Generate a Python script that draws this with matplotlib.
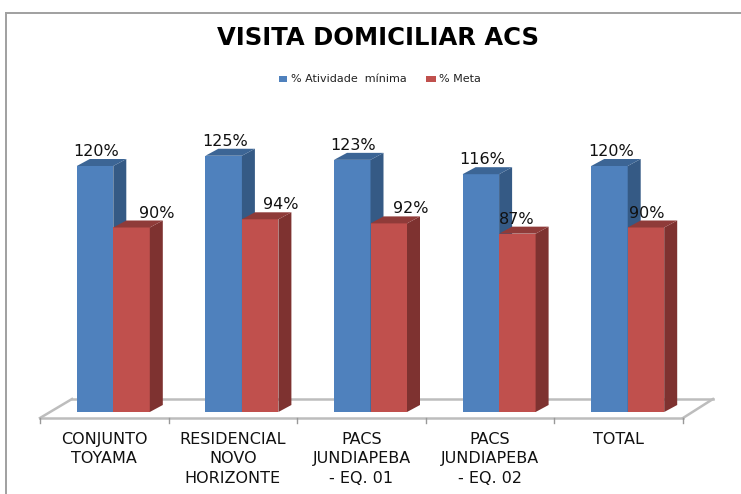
import numpy as np
import matplotlib
matplotlib.use('Agg')
import matplotlib.pyplot as plt
from matplotlib.patches import Polygon, Rectangle

# values
categories = ['CONJUNTO\nTOYAMA', 'RESIDENCIAL\nNOVO\nHORIZONTE', 'PACS\nJUNDIAPEBA\n- EQ. 01',
              'PACS\nJUNDIAPEBA\n- EQ. 02', 'TOTAL']
atividade = [120, 125, 123, 116, 120]
meta = [90, 94, 92, 87, 90]
series_names = ['% Atividade  mínima', '% Meta']

# the red labels are not placed the same way in every group (px from bar left)
meta_label_shift = [43, 39, 40, 18, 19]

W, H = 741, 494
plt.rcParams['font.family'] = ['DejaVu Sans']
fig = plt.figure(figsize=(W / 100, H / 100), dpi=100)

# scale: one category = 128.6 px, one percent = 2.05 px
x0_px, x_step = 104.3, 128.6
y0_px, y_step = 412, 2.05
ax = fig.add_axes([0, 0, 1, 1])
ax.set_xlim(-x0_px / x_step, (W - x0_px) / x_step)
ax.set_ylim((y0_px - H) / y_step, y0_px / y_step)
ax.axis('off')

bar_w = 36.5 / x_step
off = 9 / x_step       # bars sit a bit right of the tick centre
dx = 13 / x_step       # depth of the 3d look
dy = 7 / y_step

def bar3d(x, v, front, side, top):
    ax.bar(x, v, bar_w, align='edge', color=front, linewidth=0, zorder=3 + x)
    ax.add_patch(Polygon([(x + bar_w, 0), (x + bar_w + dx, dy), (x + bar_w + dx, v + dy), (x + bar_w, v)],
                         facecolor=side, linewidth=0, zorder=3 + x))
    ax.add_patch(Polygon([(x, v), (x + dx, v + dy), (x + bar_w + dx, v + dy), (x + bar_w, v)],
                         facecolor=top, linewidth=0, zorder=3 + x))

xs = np.arange(len(categories))
for i in xs:
    bar3d(i + off - bar_w, atividade[i], '#4F81BD', '#355A85', '#3C6595')
    bar3d(i + off, meta[i], '#C0504D', '#7E3230', '#8F3B39')
    ax.text(i + off - bar_w + 19.5 / x_step, atividade[i] + dy, '%d%%' % atividade[i], ha='center', va='bottom',
            fontsize=11.5, color='#111111', zorder=20)
    ax.text(i + off + meta_label_shift[i] / x_step, meta[i] + dy, '%d%%' % meta[i], ha='center', va='bottom',
            fontsize=11.5, color='#111111', zorder=20)
    ax.text(i, (y0_px - 432) / y_step, categories[i], ha='center', va='top',
            fontsize=11.5, color='#111111', linespacing=1.37)

# floor of the 3d box
floor = '#BDBDBD'
y_front = (y0_px - 418) / y_step
y_back = (y0_px - 399) / y_step
xl, xr = -0.5, 4.5
ax.plot([xl, xr], [y_front, y_front], color=floor, lw=1.8, zorder=1)
ax.plot([xl + 32 / x_step, xr + 30 / x_step], [y_back, y_back], color=floor, lw=1.8, zorder=1)
ax.plot([xl, xl + 32 / x_step], [y_front, y_back], color=floor, lw=1.8, zorder=1)
ax.plot([xr, xr + 30 / x_step], [y_front, y_back], color=floor, lw=1.8, zorder=1)
for t in np.arange(xl, xr + 0.5):
    ax.plot([t, t], [y_front, y_front - 5 / y_step], color='#999999', lw=1, zorder=1)

# title and legend
fig.text(378 / W, 1 - 38 / H, 'VISITA DOMICILIAR ACS', ha='center', va='center',
         fontsize=17.5, fontweight='bold', family='DejaVu Sans', color='black')
fig.patches.append(Rectangle((279 / W, 1 - 82 / H), 8 / W, 6 / H, transform=fig.transFigure, facecolor='#4F81BD'))
fig.patches.append(Rectangle((426 / W, 1 - 82 / H), 10 / W, 6 / H, transform=fig.transFigure, facecolor='#C0504D'))
fig.text(291 / W, 1 - 79 / H, series_names[0], va='center', fontsize=8, color='#222222')
fig.text(439 / W, 1 - 79 / H, series_names[1], va='center', fontsize=8, color='#222222')

# outer frame: top and left only, the rest is cut off
for xa, ya, xb, yb in [(6, 13, 741, 13), (6, 13, 6, 494)]:
    fig.add_artist(plt.Line2D([xa / W, xb / W], [1 - ya / H, 1 - yb / H], color='#A0A0A0', lw=1.4))

fig.savefig('out.png', dpi=100)
